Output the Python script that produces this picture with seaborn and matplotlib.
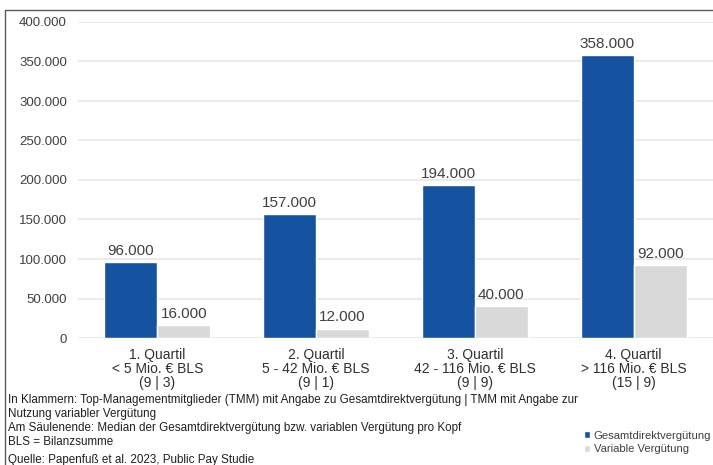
import pandas as pd
import seaborn as sns
import matplotlib.pyplot as plt
from matplotlib.lines import Line2D
from matplotlib.ticker import FuncFormatter

# --- dati ---
quartili = ["1. Quartil\n< 5 Mio. € BLS\n(9 | 3)",
            "2. Quartil\n5 - 42 Mio. € BLS\n(9 | 1)",
            "3. Quartil\n42 - 116 Mio. € BLS\n(9 | 9)",
            "4. Quartil\n> 116 Mio. € BLS\n(15 | 9)"]
gesamt = [96000, 157000, 194000, 358000]
variabel = [16000, 12000, 40000, 92000]
serie = ["Gesamtdirektvergütung", "Variable Vergütung"]
y_ticks = [0, 50000, 100000, 150000, 200000, 250000, 300000, 350000, 400000]
note = ["In Klammern: Top-Managementmitglieder (TMM) mit Angabe zu Gesamtdirektvergütung | TMM mit Angabe zur",
        "Nutzung variabler Vergütung",
        "Am Säulenende: Median der Gesamtdirektvergütung bzw. variablen Vergütung pro Kopf",
        "BLS = Bilanzsumme"]
quelle = "Quelle: Papenfuß et al. 2023, Public Pay Studie"

df = pd.DataFrame({
    "Quartil": quartili * 2,
    "Serie": [serie[0]] * 4 + [serie[1]] * 4,
    "Wert": gesamt + variabel,
})

sns.set_style("white")
plt.rcParams['font.family'] = ['Liberation Sans', 'DejaVu Sans']
testo = "#404040"

W, H = 713, 465
fig = plt.figure(figsize=(W / 100, H / 100), dpi=100)
ax = fig.add_axes([78 / W, 1 - 338 / H, 1 - 78 / W, (338 - 22) / H])

sns.barplot(data=df, x="Quartil", y="Wert", hue="Serie", order=quartili,
            hue_order=serie, palette=["#1553A0", "#D9D9D9"], width=0.667,
            gap=0, saturation=1, ax=ax, legend=True)

# etichette sopra le barre
for cont in ax.containers:
    for bar in cont:
        h = bar.get_height()
        ax.annotate(f"{int(h):,}".replace(",", "."),
                    (bar.get_x() + bar.get_width() / 2, h),
                    xytext=(0, 3), textcoords="offset points",
                    ha="center", va="bottom", fontsize=11, color=testo)

ax.set_ylim(0, 400000)
ax.set_yticks(y_ticks)
ax.yaxis.set_major_formatter(FuncFormatter(lambda v, p: f"{int(v):,}".replace(",", ".")))
ax.grid(axis="y", color="#E8E8E8", linewidth=1.2)
ax.set_axisbelow(True)
for s in ax.spines.values():
    s.set_visible(False)
ax.tick_params(axis="y", length=0, pad=8, labelsize=9.5, labelcolor=testo)
ax.tick_params(axis="x", length=0, pad=7, labelsize=10, labelcolor="#303030")
for lbl in ax.get_xticklabels():
    lbl.set_linespacing(1.0)
ax.set_xlabel("")
ax.set_ylabel("")
ax.set_xlim(-0.5, 3.5)

# legenda in basso a destra
handles, labels = ax.get_legend_handles_labels()
ax.get_legend().remove()
fig.legend(handles, labels, loc="upper left", bbox_to_anchor=(579 / W, 1 - 426 / H),
           frameon=False, fontsize=8.1, handlelength=0.6, handleheight=0.6,
           handletextpad=0.3, labelspacing=0.35, labelcolor=testo, borderaxespad=0)

# note
for testo_nota, ypx in zip(note, [400, 414, 428, 442]):
    fig.text(8 / W, 1 - ypx / H, testo_nota, fontsize=8.4, color="#202020", va="center")
fig.text(8 / W, 1 - 460 / H, quelle, fontsize=8.4, color="#202020", va="center")

# cornice (solo sinistra e sopra)
fig.add_artist(Line2D([5 / W, 5 / W, 1], [0, 1 - 10 / H, 1 - 10 / H],
                      transform=fig.transFigure, color="#595959", linewidth=1))

fig.savefig("out.png", dpi=100)
plt.close(fig)
